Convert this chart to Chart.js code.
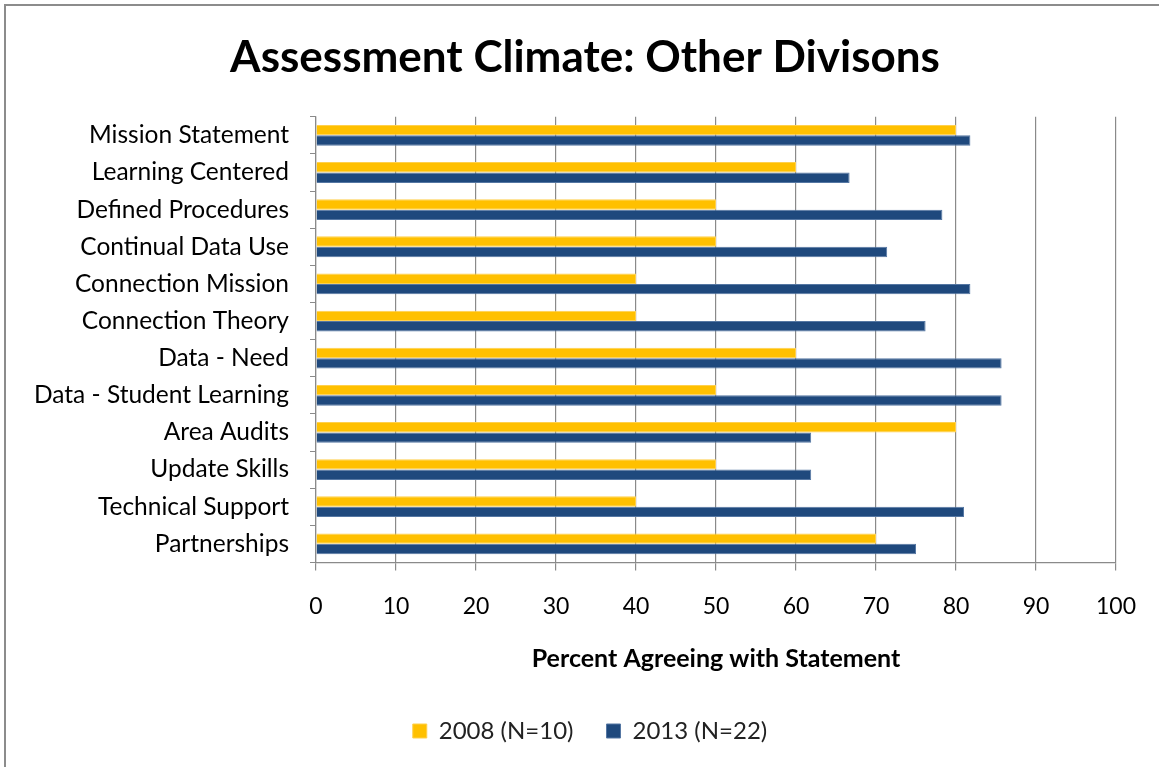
<!DOCTYPE html>
<html>
<head>
<meta charset="utf-8">
<script src="https://cdn.jsdelivr.net/npm/chart.js@4/dist/chart.umd.min.js"></script>
<style>
  body { margin: 0; background: #fff; overflow: hidden; }
  #frame {
    position: absolute; left: 4px; top: 4px;
    width: 2000px; height: 2000px;
    border: 2px solid #8c8c8c;
  }
  #wrap { position: absolute; left: 0; top: 0; width: 1159px; height: 767px; }
</style>
</head>
<body>
<div id="frame"></div>
<div id="wrap"><canvas id="barChart" width="1159" height="767"></canvas></div>
<script>
  // statements, top to bottom
  const categories = [
    "Mission Statement",
    "Learning Centered",
    "Defined Procedures",
    "Continual Data Use",
    "Connection Mission",
    "Connection Theory",
    "Data - Need",
    "Data - Student Learning",
    "Area Audits",
    "Update Skills",
    "Technical Support",
    "Partnerships",
  ];
  const values2008 = [80, 60, 50, 50, 40, 40, 60, 50, 80, 50, 40, 70];
  const values2013 = [81.8, 66.7, 78.3, 71.4, 81.8, 76.2, 85.7, 85.7, 61.9, 61.9, 81, 75];
  const seriesLabels = ["2008 (N=10)", "2013 (N=22)"];

  const gridGray = "#8a8a8a";
  const fontName = "Lato, 'Open Sans', sans-serif";

  // title and legend are centred on the whole picture, not on the plot area
  const recenterPlugin = {
    id: "recenter",
    afterLayout: function (chart) {
      if (chart.titleBlock) chart.titleBlock.left = 54;
      if (chart.legend) chart.legend.left = 64;
    },
  };

  const barChartConfig = {
    type: "bar",
    data: {
      labels: categories,
      datasets: [
        {
          label: seriesLabels[0],
          data: values2008,
          backgroundColor: "#ffc000",
          borderColor: "#ffd04d",
          borderWidth: 1,
          categoryPercentage: 0.56,
          barPercentage: 1,
        },
        {
          label: seriesLabels[1],
          data: values2013,
          backgroundColor: "#1f497d",
          borderColor: "#5577a3",
          borderWidth: 1,
          categoryPercentage: 0.56,
          barPercentage: 1,
        },
      ],
    },
    options: {
      indexAxis: "y",
      responsive: false,
      animation: false,
      layout: { padding: { left: 0, right: 43, top: 0, bottom: 14 } },
      plugins: {
        title: {
          display: true,
          text: "Assessment Climate: Other Divisons",
          color: "#000",
          font: { family: fontName, size: 44, weight: "bold" },
          padding: { top: 31, bottom: 33 },
        },
        legend: {
          position: "bottom",
          labels: {
            color: "#222",
            font: { family: fontName, size: 24 },
            boxWidth: 14,
            boxHeight: 14,
            padding: 33,
          },
        },
        tooltip: { enabled: false },
      },
      scales: {
        x: {
          min: 0,
          max: 100,
          ticks: {
            stepSize: 10,
            color: "#000",
            font: { family: fontName, size: 23 },
            padding: 22,
          },
          grid: {
            color: gridGray,
            lineWidth: 1.2,
            tickLength: 8,
          },
          border: { color: gridGray, width: 1.2 },
          title: {
            display: true,
            text: "Percent Agreeing with Statement",
            color: "#000",
            font: { family: fontName, size: 25, weight: "bold" },
            padding: { top: 2, bottom: 12 },
          },
        },
        y: {
          afterFit: function (scale) {
            scale.width = 316;
          },
          ticks: {
            color: "#000",
            font: { family: fontName, size: 24.5 },
            padding: 21,
          },
          grid: {
            drawOnChartArea: false,
            color: gridGray,
            tickLength: 6,
          },
          border: { color: gridGray, width: 1.2 },
        },
      },
    },
    plugins: [recenterPlugin],
  };

  const barChart = new Chart(document.getElementById("barChart"), barChartConfig);
</script>
</body>
</html>
